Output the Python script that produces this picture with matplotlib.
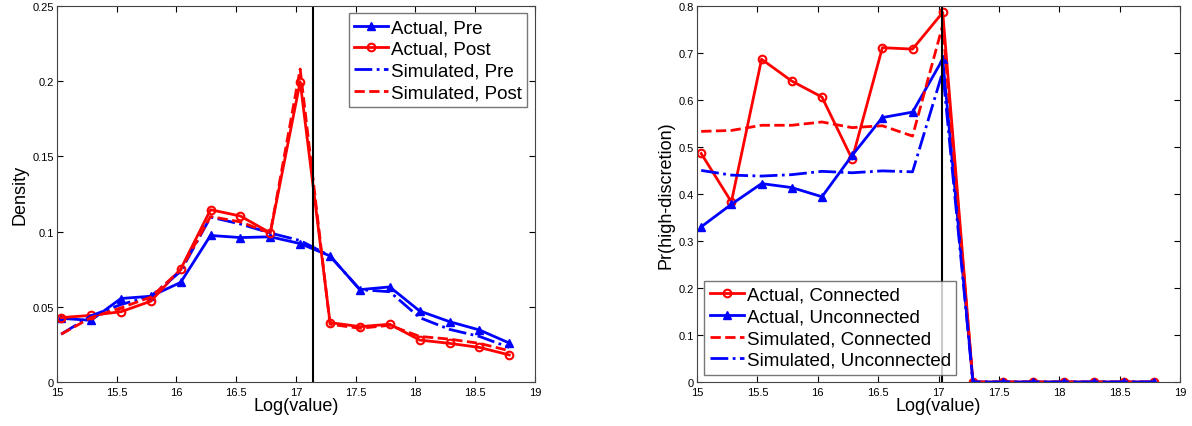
import numpy as np
import matplotlib
matplotlib.use('Agg')
import matplotlib.pyplot as plt

plt.rcParams['font.family'] = ['Liberation Sans', 'DejaVu Sans']

# bin centres (log value)
x = [15.035, 15.285, 15.535, 15.785, 16.035, 16.285, 16.535, 16.785,
     17.035, 17.285, 17.535, 17.785, 18.035, 18.285, 18.535, 18.785]

# left panel: density
actual_pre = [0.0423, 0.0410, 0.0555, 0.0570, 0.0662, 0.0974, 0.0960, 0.0965,
              0.0920, 0.0838, 0.0614, 0.0632, 0.0472, 0.0401, 0.0346, 0.0259]
actual_post = [0.0428, 0.0443, 0.0467, 0.0537, 0.0750, 0.1145, 0.1103, 0.0991,
               0.1996, 0.0395, 0.0368, 0.0384, 0.0279, 0.0257, 0.0230, 0.0180]
sim_pre = [0.0318, 0.0440, 0.0515, 0.0570, 0.0735, 0.1096, 0.1050, 0.0990,
           0.0940, 0.0838, 0.0614, 0.0600, 0.0428, 0.0350, 0.0303, 0.0230]
sim_post = [0.0318, 0.0428, 0.0493, 0.0564, 0.0745, 0.1100, 0.1064, 0.0990,
            0.2080, 0.0384, 0.0357, 0.0377, 0.0303, 0.0285, 0.0257, 0.0208]
left_vline = 17.14

# right panel: Pr(high-discretion)
actual_conn = [0.486, 0.383, 0.6865, 0.640, 0.606, 0.474, 0.711, 0.708,
               0.786, 0, 0, 0, 0, 0, 0, 0]
actual_unconn = [0.330, 0.378, 0.422, 0.4135, 0.394, 0.482, 0.5624, 0.574,
                 0.6865, 0, 0, 0, 0, 0, 0, 0]
sim_conn = [0.533, 0.535, 0.546, 0.546, 0.553, 0.541, 0.545, 0.523,
            0.759, 0, 0, 0, 0, 0, 0, 0]
sim_unconn = [0.450, 0.440, 0.438, 0.441, 0.448, 0.445, 0.449, 0.447,
              0.660, 0, 0, 0, 0, 0, 0, 0]
right_vline = 17.03

fig = plt.figure(figsize=(11.92, 4.27), dpi=100)
ax1 = fig.add_axes([0.0478, 0.103, 0.401, 0.881])
ax2 = fig.add_axes([0.5847, 0.103, 0.4053, 0.881])

lw = 2
leg_kw = dict(fontsize=13.5, frameon=True, fancybox=False, edgecolor='#555555',
              handlelength=1.8, handletextpad=0.15, borderaxespad=0.4,
              borderpad=0.3, labelspacing=0.25)

ax1.plot(x, actual_pre, '-^', color='blue', lw=lw, ms=5.5, label='Actual, Pre')
ax1.plot(x, actual_post, '-o', color='red', lw=lw, ms=5.5, mfc='none', mew=1.5, label='Actual, Post')
ax1.plot(x, sim_pre, '-.', color='blue', lw=lw, label='Simulated, Pre')
ax1.plot(x, sim_post, '--', color='red', lw=lw, label='Simulated, Post')
ax1.axvline(left_vline, color='black', lw=1.5)
ax1.set_xlim(15, 19)
ax1.set_ylim(0, 0.25)
ax1.set_yticks([0, 0.05, 0.1, 0.15, 0.2, 0.25])
ax1.set_yticklabels(['0', '0.05', '0.1', '0.15', '0.2', '0.25'])
ax1.set_xlabel('Log(value)', fontsize=13, labelpad=0)
ax1.set_ylabel('Density', fontsize=13, labelpad=3)
ax1.legend(loc='upper right', **leg_kw)

ax2.plot(x, actual_conn, '-o', color='red', lw=lw, ms=5.5, mfc='none', mew=1.5, label='Actual, Connected')
ax2.plot(x, actual_unconn, '-^', color='blue', lw=lw, ms=5.5, label='Actual, Unconnected')
ax2.plot(x, sim_conn, '--', color='red', lw=lw, label='Simulated, Connected')
ax2.plot(x, sim_unconn, '-.', color='blue', lw=lw, label='Simulated, Unconnected')
ax2.axvline(right_vline, color='black', lw=1.5)
ax2.set_xlim(15, 19)
ax2.set_ylim(0, 0.8)
ax2.set_yticks(np.arange(0, 0.81, 0.1))
ax2.set_yticklabels(['0', '0.1', '0.2', '0.3', '0.4', '0.5', '0.6', '0.7', '0.8'])
ax2.set_xlabel('Log(value)', fontsize=13, labelpad=0)
ax2.set_ylabel('Pr(high-discretion)', fontsize=13, labelpad=3)
ax2.legend(loc='lower left', **leg_kw)

for ax in (ax1, ax2):
    ax.set_xticks([15, 15.5, 16, 16.5, 17, 17.5, 18, 18.5, 19])
    ax.set_xticklabels(['15', '15.5', '16', '16.5', '17', '17.5', '18', '18.5', '19'])
    ax.tick_params(direction='in', top=True, right=True, labelsize=8, length=4, pad=2)
    ax.tick_params(axis='x', pad=3.5)
    for s in ax.spines.values():
        s.set_color('#444444')
        s.set_linewidth(0.8)

fig.savefig('out.png', dpi=100)
